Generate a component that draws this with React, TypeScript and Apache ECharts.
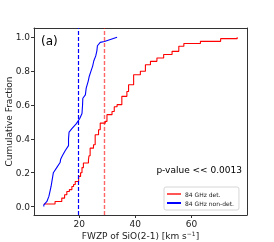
import React, { useEffect, useRef } from "react";
import * as echarts from "echarts";

// ECDF of FWZP for 84 GHz detections (red) and non-detections (blue)
const detX = [7.4, 11.4, 13.8, 14.8, 15.6, 16.5, 17.4, 18.0, 18.6, 19.8, 20.5, 21.0, 21.5, 23.3, 23.5, 23.9, 25.1, 25.7, 26.9, 27.5, 29.3, 29.9, 31.7, 32.5, 33.5, 35.2, 37.0, 37.6, 39.4, 41.8, 43.6, 45.4, 47.7, 50.1, 53.1, 55.5, 57.3, 63.2, 70.4, 76.3];
const detY = [0.015, 0.03, 0.05, 0.07, 0.089, 0.1, 0.118, 0.13, 0.148, 0.178, 0.2, 0.23, 0.257, 0.276, 0.3, 0.345, 0.365, 0.424, 0.454, 0.493, 0.503, 0.543, 0.562, 0.59, 0.602, 0.651, 0.68, 0.72, 0.779, 0.799, 0.838, 0.858, 0.878, 0.898, 0.917, 0.947, 0.963, 0.976, 0.992, 1.0];
const nonX = [7.4, 7.4, 8.5, 9.2, 9.6, 10.0, 10.4, 10.8, 12.0, 13.2, 13.4, 14.0, 15.0, 16.2, 16.2, 16.4, 17.4, 19.0, 20.2, 21.0, 21.2, 21.3, 22.2, 22.5, 23.2, 23.6, 24.2, 24.8, 25.2, 25.9, 26.3, 26.5, 27.5, 29.0, 33.5];
const nonY = [0.0, 0.01, 0.03, 0.06, 0.09, 0.12, 0.16, 0.2, 0.23, 0.26, 0.28, 0.3, 0.33, 0.36, 0.4, 0.44, 0.46, 0.49, 0.52, 0.55, 0.6, 0.64, 0.66, 0.7, 0.74, 0.77, 0.8, 0.83, 0.86, 0.89, 0.92, 0.95, 0.97, 0.975, 1.0];
const medianDet = 28.9;
const medianNon = 19.8;
const xTicks = [20, 40, 60];
const yTicks = [0, 0.2, 0.4, 0.6, 0.8, 1.0];
const seriesNames = ["84 GHz det.", "84 GHz non-det."];
const pText = "p-value << 0.0013";
const panelLabel = "(a)";

const FONT = "DejaVu Sans";

export default function App() {
  const ref = useRef<HTMLDivElement>(null);
  useEffect(() => {
    if (!ref.current) return;
    const chart = echarts.init(ref.current, undefined, { renderer: "svg" });
    const axisCommon = {
      axisLine: { show: true, onZero: false, lineStyle: { color: "#333", width: 1 } },
      splitLine: { show: false },
    };
    chart.setOption({
      animation: false,
      grid: { left: 34, right: 27, top: 28, bottom: 27, show: false, containLabel: false, outerBoundsMode: "none" },
      xAxis: [
        {
          type: "value",
          min: 3.9,
          max: 79.8,
          ...axisCommon,
          axisTick: { show: true, length: 3, customValues: xTicks, lineStyle: { color: "#333" } },
          axisLabel: { customValues: xTicks, fontFamily: FONT, fontSize: 9, color: "#222", margin: 4 },
          name: "FWZP of SiO(2-1) [km s{sup|−1}]",
          nameLocation: "middle",
          nameMoveOverlap: false,
          nameGap: 21,
          nameTextStyle: {
            fontFamily: FONT,
            fontSize: 9,
            color: "#222",
            verticalAlign: "middle",
            rich: { sup: { fontFamily: FONT, fontSize: 6, verticalAlign: "top", padding: [0, 0, 5, 0], color: "#222" } },
          },
        },
        {
          type: "value",
          position: "top",
          min: 3.9,
          max: 79.8,
          ...axisCommon,
          axisTick: { show: false },
          axisLabel: { show: false },
        },
      ],
      yAxis: [
        {
          type: "value",
          min: -0.05,
          max: 1.055,
          ...axisCommon,
          axisTick: { show: true, length: 3, customValues: yTicks, lineStyle: { color: "#333" } },
          axisLabel: {
            customValues: yTicks,
            fontFamily: FONT,
            fontSize: 9,
            color: "#222",
            margin: 4,
            formatter: (v: number) => v.toFixed(1),
          },
          name: "Cumulative Fraction",
          nameLocation: "middle",
          nameMoveOverlap: false,
          nameGap: 25,
          nameTextStyle: { fontFamily: FONT, fontSize: 9, color: "#222", verticalAlign: "middle" },
        },
        {
          type: "value",
          position: "right",
          min: -0.05,
          max: 1.055,
          ...axisCommon,
          axisTick: { show: false },
          axisLabel: { show: false },
        },
      ],
      legend: {
        orient: "vertical",
        left: 164,
        top: 187,
        width: 77,
        itemWidth: 14,
        itemHeight: 2,
        itemGap: 3,
        padding: [4, 5, 4, 3],
        borderColor: "#ccc",
        borderWidth: 0.8,
        borderRadius: 2,
        icon: "rect",
        textStyle: { fontFamily: FONT, fontSize: 6, color: "#222", padding: [0, 0, 0, -1] },
        data: [
          { name: seriesNames[0], itemStyle: { color: "#ff5555" } },
          { name: seriesNames[1], itemStyle: { color: "#0000ff" } },
        ],
      },
      graphic: [
        {
          type: "text",
          left: 41,
          top: 35,
          style: { text: panelLabel, fontFamily: FONT, fontSize: 12, fill: "#000" },
        },
        {
          type: "text",
          right: 32,
          top: 165,
          style: { text: pText, fontFamily: FONT, fontSize: 9, fill: "#000" },
        },
      ],
      series: [
        {
          name: seriesNames[0],
          type: "line",
          step: "end",
          showSymbol: false,
          lineStyle: { color: "#ff0000", width: 1.1 },
          itemStyle: { color: "#ff0000" },
          data: detX.map((x, i) => [x, detY[i]]),
          markLine: {
            silent: true,
            symbol: "none",
            label: { show: false },
            lineStyle: { color: "#ff0000", opacity: 0.6, type: [4, 2], width: 1.4 },
            data: [{ xAxis: medianDet }],
          },
          z: 3,
        },
        {
          name: seriesNames[1],
          type: "line",
          showSymbol: false,
          lineStyle: { color: "#0000ff", width: 1.1 },
          itemStyle: { color: "#0000ff" },
          data: nonX.map((x, i) => [x, nonY[i]]),
          markLine: {
            silent: true,
            symbol: "none",
            label: { show: false },
            lineStyle: { color: "#0000ff", type: [4, 2], width: 1.2 },
            data: [{ xAxis: medianNon }],
          },
          z: 4,
        },
      ],
    });
    return () => chart.dispose();
  }, []);
  return <div ref={ref} style={{ position: "fixed", left: 0, top: 0, width: 274, height: 242 }} />;
}
